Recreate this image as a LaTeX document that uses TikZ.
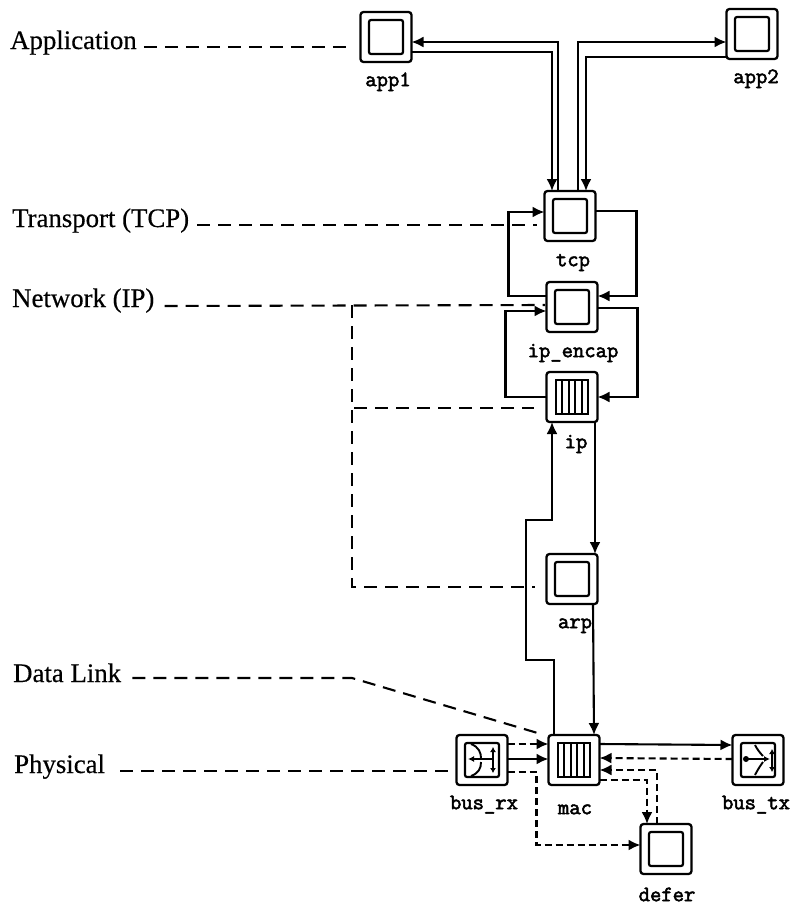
\documentclass[tikz,border=0pt]{standalone}
\usepackage{fontspec}
\setmainfont[FakeBold=0.4]{Liberation Serif}
\newfontfamily\modfont[FakeBold=2.5]{Latin Modern Mono}
\usetikzlibrary{positioning,arrows.meta}

\begin{document}
\begin{tikzpicture}[
      x=1pt, y=-1pt,
      modbox/.style   = {rectangle, draw, line width=2.3pt, rounded corners=3pt,
                         minimum width=51pt, minimum height=50pt,
                         inner sep=0pt, outer sep=0pt},
      procbox/.style  = {rectangle, draw, line width=2.2pt, rounded corners=2pt,
                         minimum width=34pt, minimum height=34pt,
                         inner sep=0pt, outer sep=0pt},
      queuebox/.style = {rectangle, draw, line width=2pt,
                         minimum width=32pt, minimum height=34pt,
                         inner sep=0pt, outer sep=0pt},
      modlabel/.style = {inner sep=0pt, text height=11pt, text depth=3pt,
                         font=\modfont\fontsize{22}{22}\selectfont},
      layer/.style    = {anchor=base west, inner sep=0pt,
                         font=\fontsize{26.8}{26.8}\selectfont},
      arrow/.style    = {-{Latex[length=12pt,width=11pt]}, line width=2.1pt},
      dasharrow/.style = {-{Latex[length=12pt,width=11pt]}, line width=2.1pt,
                         dash pattern=on 7pt off 4pt},
      layerline/.style = {line width=2.1pt, dash pattern=on 13pt off 8pt},
      icon/.style     = {line width=1.9pt},
      iconarrow/.style = {line width=1.9pt, {Latex[length=5pt,width=6pt]}-{Latex[length=5pt,width=6pt]}}
    ]
    \useasboundingbox (0,0) rectangle (790,905);

    % modules
    \node[modbox] (app1)    at (386,37)  {};
    \node[modbox] (app2)    at (752,34)  {};
    \node[modbox] (tcp)     at (570,216) {};
    \node[modbox, below=41pt of tcp, xshift=2pt] (ipencap) {};
    \node[modbox, below=40pt of ipencap]         (ip)      {};
    \node[modbox, below=132pt of ip]             (arp)     {};
    \node[modbox, below=131pt of arp, xshift=2pt] (mac)    {};
    \node[modbox, left=41pt of mac]              (busrx)   {};
    \node[modbox, right=133pt of mac]            (bustx)   {};
    \node[modbox] (defer)   at (666,849) {};

    % inner boxes
    \node[procbox]  (app1in)    at (app1)    {};
    \node[procbox]  (app2in)    at (app2)    {};
    \node[procbox]  (tcpin)     at (tcp)     {};
    \node[procbox]  (ipencapin) at (ipencap) {};
    \node[procbox]  (arpin)     at (arp)     {};
    \node[procbox]  (deferin)   at (defer)   {};
    \node[procbox]  (busrxin)   at (busrx)   {};
    \node[procbox]  (bustxin)   at (bustx)   {};
    \node[queuebox] (ipq)       at (ip)      {};
    \node[queuebox] (macq)      at (mac)     {};

    % queue bars
    \foreach \k in {1,...,4} {
      \draw[icon] ([xshift=\k*6.4pt]ipq.north west)  -- ([xshift=\k*6.4pt]ipq.south west);
      \draw[icon] ([xshift=\k*6.4pt]macq.north west) -- ([xshift=\k*6.4pt]macq.south west);
    }

    % bus icons
    \begin{scope}[shift={(busrxin.center)}]
      \draw[icon] (-11,-16) .. controls (-3,-13) and (-1,-7) .. (-1,-2);
      \draw[icon] (-1,2) .. controls (-1,8) and (-3,13) .. (-11,16);
      \draw[icon, -{Latex[length=6pt,width=6pt]}] (11,-1) -- (-14,-1);
      \draw[iconarrow] (11,-13) -- (11,13);
    \end{scope}
    \begin{scope}[shift={(bustxin.center)}]
      \draw[icon] (-3,-15) .. controls (-1,-11) and (2,-7) .. (5,-4);
      \draw[icon] (5,2) .. controls (2,6) and (-1,11) .. (-3,15);
      \draw[icon, -{Latex[length=6pt,width=6pt]}] (-12,-1) -- (12,-1);
      \fill (-12,-1) circle (3);
      \draw[iconarrow] (14,-11) -- (14,12);
    \end{scope}

    % module labels
    \node[modlabel, below=13pt of app1, xshift=2pt]  (app1lbl)    {app1};
    \node[modlabel, below=13pt of app2, xshift=4pt]  (app2lbl)    {app2};
    \node[modlabel, below=14pt of tcp, xshift=3pt]   (tcplbl)     {tcp};
    \node[modlabel, below=14pt of ipencap, xshift=1pt] (ipencaplbl) {ip\_encap};
    \node[modlabel, below=15pt of ip, xshift=4pt]    (iplbl)      {ip};
    \node[modlabel, below=13pt of arp, xshift=3pt]   (arplbl)     {arp};
    \node[modlabel, below=18pt of mac, xshift=1pt]   (maclbl)     {mac};
    \node[modlabel, below=13pt of busrx, xshift=2pt] (busrxlbl)   {bus\_rx};
    \node[modlabel, below=13pt of bustx, xshift=-2pt] (bustxlbl)  {bus\_tx};
    \node[modlabel, below=16pt of defer, xshift=1pt] (deferlbl)   {defer};

    % layer names
    \node[layer] (lblapp)  at (10,49)  {Application};
    \node[layer] (lbltcp)  at (12,227) {Transport (TCP)};
    \node[layer] (lblnet)  at (12,307) {Network (IP)};
    \node[layer] (lbldata) at (13,682) {Data Link};
    \node[layer] (lblphys) at (14,773) {Physical};

    % ends of the layer lines
    \coordinate (append)   at (348,47);
    \coordinate (tcpend)   at (537,225);
    \coordinate (netend)   at (545,305);
    \coordinate (netbus)   at (352,305);
    \coordinate (ipend)    at (534,408);
    \coordinate (arpend)   at (535,587);
    \coordinate (databend) at (352,678);
    \coordinate (dataend)  at (541,734);
    \coordinate (physend)  at (451,771);

    % application to tcp
    \draw[arrow] ([xshift=-12pt]tcp.north) |- ([yshift=-5pt]app1.east);
    \draw[arrow] ([yshift=-15pt]app1.east) -| ([xshift=-18pt]tcp.north);
    \draw[arrow] ([xshift=8pt]tcp.north) |- ([yshift=-8pt]app2.west);
    \draw[arrow] ([yshift=-23pt]app2.west) -| ([xshift=16pt]tcp.north);

    % tcp, ip_encap, ip
    \draw[arrow] ([yshift=11pt]ipencap.west) -- ++(-38,0) |- ([yshift=4pt]tcp.west);
    \draw[arrow] ([yshift=5pt]tcp.east) -- ++(41,0) |- ([yshift=11pt]ipencap.east);
    \draw[arrow] (ip.west) -- ++(-41,0) |- ([yshift=-4pt]ipencap.west);
    \draw[arrow] ([yshift=-1pt]ipencap.east) -- ++(40,0) |- (ip.east);

    % ip, arp, mac
    \draw[arrow] ([xshift=-20pt]mac.north) -- ++(0,-75) -- ++(-28,0) -- ++(0,-140)
                 -- ++(26,0) -- ([xshift=-20pt]ip.south);
    \draw[arrow] ([xshift=23pt]ip.south) -- ([xshift=23pt]arp.north);
    \draw[arrow] ([xshift=21pt]arp.south) -- ([xshift=20pt]mac.north);

    % around mac
    \draw[dasharrow] ([yshift=16pt]busrx.east) -- ([yshift=16pt]mac.west);
    \draw[arrow]     ([yshift=1pt]busrx.east)  -- ([yshift=1pt]mac.west);
    \draw[dasharrow] ([yshift=-12pt]busrx.east) -- ++(29,0) |- ([yshift=4pt]defer.west);
    \draw[arrow]     ([yshift=16pt]mac.east) -- ([yshift=15pt]bustx.west);
    \draw[dasharrow] ([yshift=1pt]bustx.west) -- ([yshift=2pt]mac.east);
    \draw[dasharrow] ([xshift=-9pt]defer.north) |- ([yshift=-10pt]mac.east);
    \draw[dasharrow] ([yshift=-20pt]mac.east) -| ([xshift=-19pt]defer.north);

    % layer lines
    \draw[layerline] ([xshift=7pt,yshift=2pt]lblapp.base east)  -- (append);
    \draw[layerline] ([xshift=8pt,yshift=2pt]lbltcp.base east)  -- (tcpend);
    \draw[layerline] ([xshift=10pt,yshift=1pt]lblnet.base east) -- (netend);
    \draw[layerline] (netbus) |- (ipend);
    \draw[layerline] (netbus) |- (arpend);
    \draw[layerline] ([xshift=11pt,yshift=4pt]lbldata.base east) -- (databend) -- (dataend);
    \draw[layerline] ([xshift=15pt,yshift=2pt]lblphys.base east) -- (physend);
  \end{tikzpicture}
\end{document}
